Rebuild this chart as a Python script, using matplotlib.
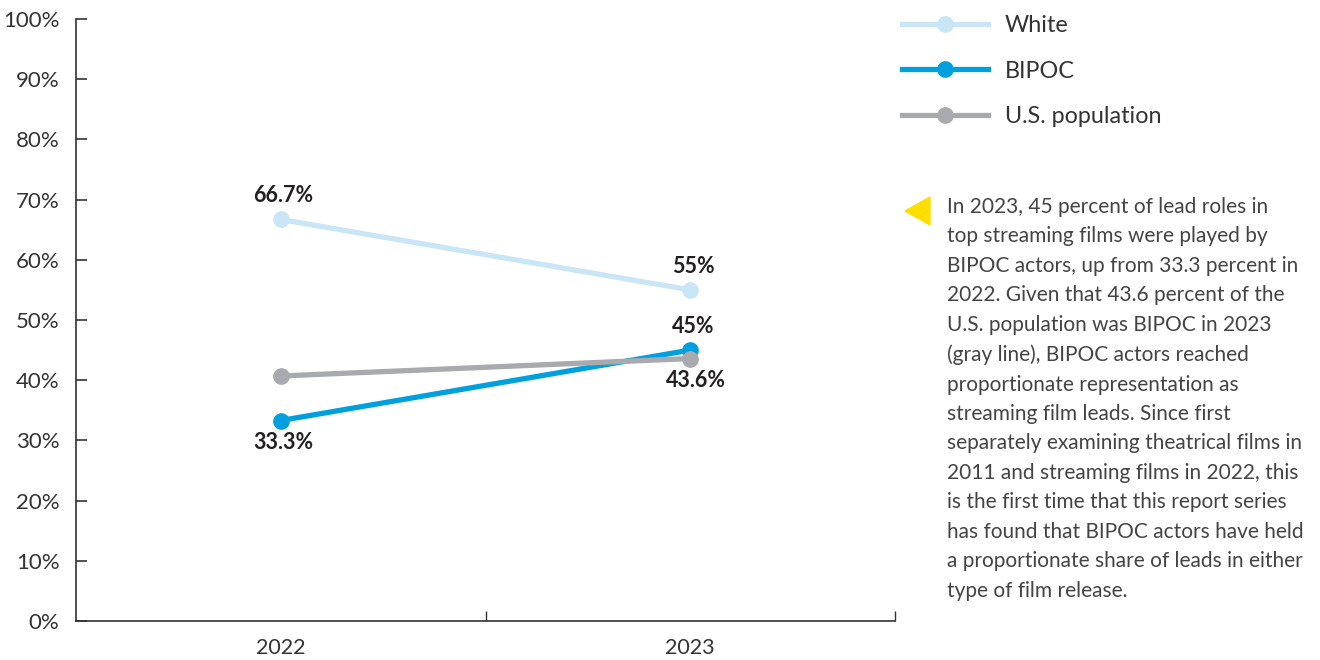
import matplotlib.pyplot as plt
from matplotlib.lines import Line2D

plt.rcParams['font.family'] = ['Lato', 'DejaVu Sans']

# Data
years = ["2022", "2023"]
white = [66.7, 55.0]
bipoc = [33.3, 45.0]
us_pop = [40.7, 43.6]
white_labels = ["66.7%", "55%"]
bipoc_labels = ["33.3%", "45%"]
us_pop_labels = [None, "43.6%"]
yticks = [0, 10, 20, 30, 40, 50, 60, 70, 80, 90, 100]

note = ("In 2023, 45 percent of lead roles in\n"
        "top streaming films were played by\n"
        "BIPOC actors, up from 33.3 percent in\n"
        "2022. Given that 43.6 percent of the\n"
        "U.S. population was BIPOC in 2023\n"
        "(gray line), BIPOC actors reached\n"
        "proportionate representation as\n"
        "streaming film leads. Since first\n"
        "separately examining theatrical films in\n"
        "2011 and streaming films in 2022, this\n"
        "is the first time that this report series\n"
        "has found that BIPOC actors have held\n"
        "a proportionate share of leads in either\n"
        "type of film release.")

c_white = "#c9e6f6"
c_bipoc = "#00a0df"
c_gray = "#a9aaad"
c_text = "#231f20"

fig = plt.figure(figsize=(13.2, 6.6), dpi=100)
ax = fig.add_axes([76 / 1320, 1 - 621 / 660, (895 - 76) / 1320, (621 - 19) / 660])

x = list(range(len(years)))
ax.plot(x, white, color=c_white, lw=3.8, marker="o", ms=11, zorder=1)
ax.plot(x, bipoc, color=c_bipoc, lw=3.8, marker="o", ms=11, zorder=2)
# gray drawn over blue at 2023, like the reference
ax.plot(x, us_pop, color=c_gray, lw=3.8, marker="o", ms=11, zorder=3)

lab_kw = dict(textcoords="offset points", ha="center", va="center",
              fontsize=15.5, fontweight="bold", color=c_text)
for i in x:
    ax.annotate(white_labels[i], (i, white[i]), xytext=(2, 17), **lab_kw)
    ax.annotate(bipoc_labels[i], (i, bipoc[i]), xytext=(2, 17 if i == 1 else -16), **lab_kw)
    if us_pop_labels[i]:
        ax.annotate(us_pop_labels[i], (i, us_pop[i]), xytext=(4, -16), **lab_kw)

ax.set_xlim(-0.5, 1.5)
ax.set_ylim(0, 100)
ax.set_yticks(yticks)
ax.set_yticklabels([f"{t}%" for t in yticks])
ax.set_xticks(x)
ax.set_xticklabels(years)
ax.set_xticks([0.5, 1.5], minor=True)
ax.tick_params(axis="x", which="major", length=0, pad=12, labelsize=15.5, labelcolor="#333333")
ax.tick_params(axis="x", which="minor", direction="in", length=7, width=1, color="#333333")
ax.tick_params(axis="y", direction="in", length=8, width=1.2, pad=12, labelsize=16,
               labelcolor="#333333", color="#333333")
for s in ["top", "right"]:
    ax.spines[s].set_visible(False)
ax.spines["left"].set_color("#333333")
ax.spines["bottom"].set_color("#333333")
ax.spines["left"].set_linewidth(1.2)
ax.spines["bottom"].set_linewidth(1.2)
ax.set_facecolor("none")

handles = [
    Line2D([], [], color=c_white, lw=3.8, marker="o", ms=11),
    Line2D([], [], color=c_bipoc, lw=3.8, marker="o", ms=11),
    Line2D([], [], color=c_gray, lw=3.8, marker="o", ms=11),
]
fig.legend(handles, ["White", "BIPOC", "U.S. population"], loc="upper left",
           bbox_to_anchor=(902 / 1320, 1 - 15 / 660), frameon=False, fontsize=16.8,
           handlelength=3.7, handletextpad=0.7, labelspacing=1.05,
           borderpad=0, borderaxespad=0, labelcolor="#333333")

# yellow pointer and note
fig.patches.append(plt.Polygon([(905 / 1320, 1 - 211 / 660), (930 / 1320, 1 - 197 / 660),
                                (930 / 1320, 1 - 225 / 660)], closed=True,
                               transform=fig.transFigure, color="#ffde00"))
fig.text(947 / 1320, 1 - 197 / 660, note, ha="left", va="top", fontsize=15,
         color="#444444", linespacing=1.59)

fig.savefig("out.png", dpi=100)
